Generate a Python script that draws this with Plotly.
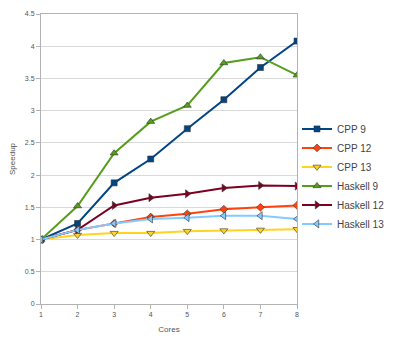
import plotly.graph_objects as go

cores = [1, 2, 3, 4, 5, 6, 7, 8]
cpp9 = [1.0, 1.25, 1.88, 2.25, 2.72, 3.17, 3.67, 4.08]
cpp12 = [1.0, 1.15, 1.25, 1.35, 1.40, 1.47, 1.50, 1.53]
cpp13 = [1.0, 1.07, 1.10, 1.10, 1.13, 1.14, 1.15, 1.16]
haskell9 = [1.0, 1.52, 2.34, 2.83, 3.08, 3.74, 3.83, 3.55]
haskell12 = [1.0, 1.15, 1.53, 1.65, 1.71, 1.80, 1.84, 1.83]
haskell13 = [1.0, 1.15, 1.25, 1.32, 1.34, 1.37, 1.37, 1.32]

series = [
    ("CPP 9", cpp9, "#004586", "square", 6),
    ("CPP 12", cpp12, "#ff420e", "diamond", 6),
    ("CPP 13", cpp13, "#ffd320", "triangle-down", 7),
    ("Haskell 9", haskell9, "#579d1c", "triangle-up", 7),
    ("Haskell 12", haskell12, "#7e0021", "triangle-right", 7),
    ("Haskell 13", haskell13, "#83caff", "triangle-left", 7),
]

fig = go.Figure()
for name, vals, color, sym, sz in series:
    fig.add_trace(go.Scatter(
        x=cores, y=vals, name=name, mode="lines+markers",
        line=dict(color=color, width=2),
        marker=dict(symbol=sym, size=sz, color=color,
                    line=dict(color="#333333", width=0.6)),
    ))

fig.update_layout(
    width=400, height=350,
    margin=dict(l=41, r=89, t=10, b=46),
    paper_bgcolor="white", plot_bgcolor="white",
    font=dict(family="Liberation Sans, Arial, sans-serif", color="#555555"),
    showlegend=True,
    legend=dict(x=1.0, xanchor="left", y=0.44, yanchor="middle",
                font=dict(size=10, color="#444444"),
                itemwidth=30, tracegroupgap=0,
                bgcolor="rgba(0,0,0,0)"),
)
fig.update_xaxes(
    range=[1, 8], dtick=1, showgrid=False,
    showline=True, linecolor="#b3b3b3", linewidth=1, mirror=True,
    ticks="outside", ticklen=4, tickcolor="#b3b3b3",
    tickfont=dict(size=7, color="#555555"),
    title=dict(text="Cores", font=dict(size=8, color="#555555"), standoff=8),
    zeroline=False,
)
fig.update_yaxes(
    range=[0, 4.5], dtick=0.5, showgrid=True, gridcolor="#d9d9d9", gridwidth=1,
    showline=True, linecolor="#b3b3b3", linewidth=1, mirror=True,
    ticks="outside", ticklen=4, tickcolor="#b3b3b3",
    tickfont=dict(size=7, color="#555555"),
    title=dict(text="Speedup", font=dict(size=8, color="#555555"), standoff=8),
    zeroline=False,
)

fig.write_html("out.html")
